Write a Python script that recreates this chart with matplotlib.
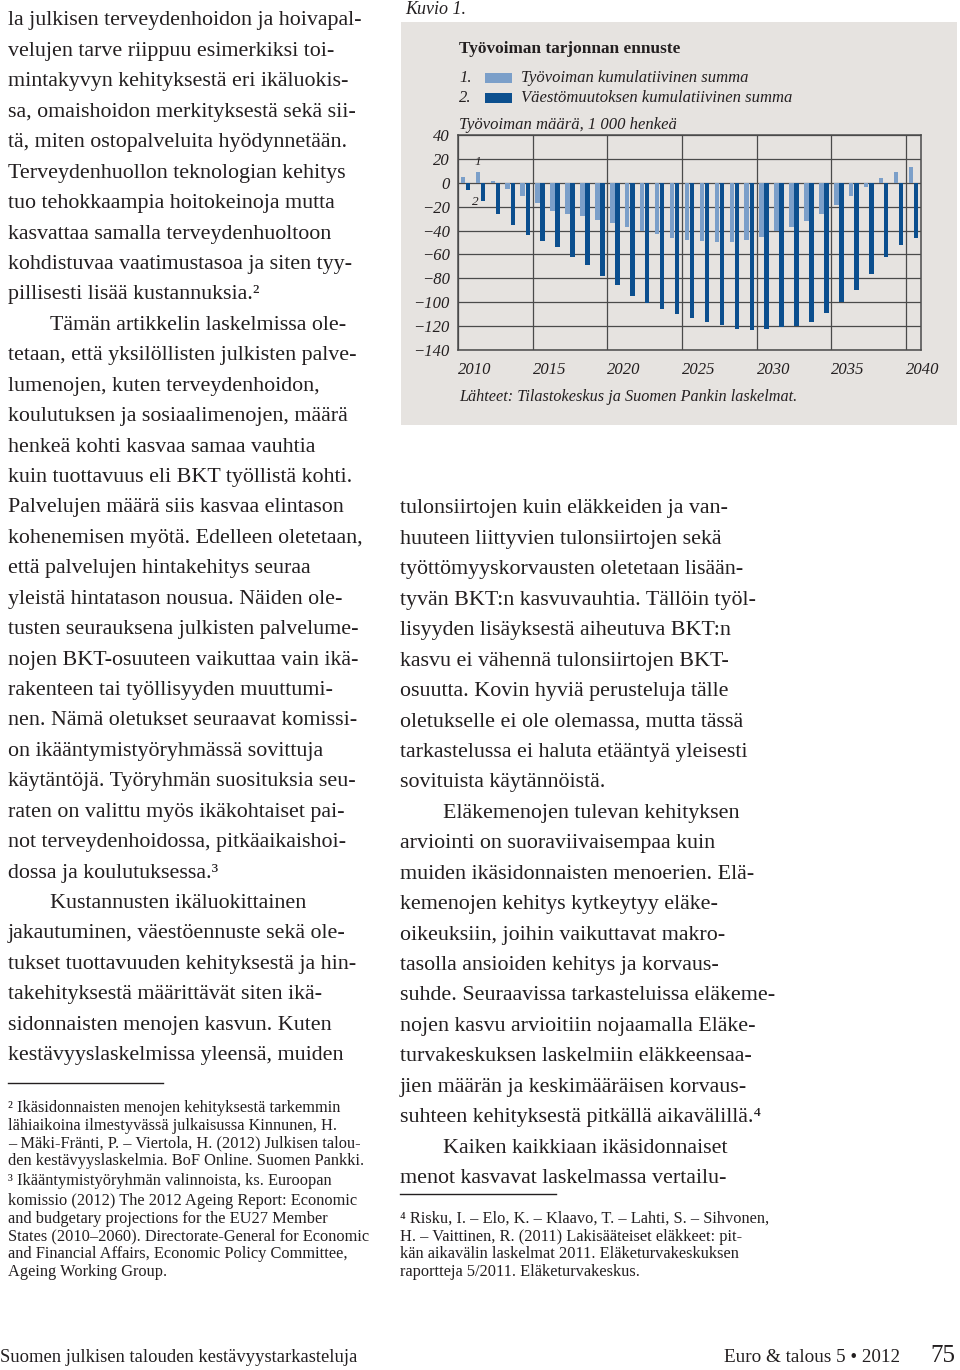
import matplotlib
matplotlib.use("Agg")
import matplotlib.pyplot as plt
from matplotlib.patches import Rectangle
import numpy as np

plt.rcParams['font.family'] = ['Liberation Serif', 'DejaVu Serif']

W, H = 960, 1370

# chart data, 1 000 persons
years = list(range(2010, 2041))
labour_cum = [4.5, 9, 1.5, -5, -11, -17, -23.5, -26, -28, -31,
              -34, -37, -40, -42.5, -46, -47.5, -49, -49.5, -49.5, -47.5,
              -45, -40.5, -37, -32, -26, -19, -11, -3.5, 3.6, 9, 13.4]
pop_cum = [-6, -15, -26, -35, -44, -49, -54, -62, -68.5, -78,
           -85.5, -94.5, -101, -106, -110, -113, -116.6, -119.4, -122, -123.6,
           -122.8, -121, -120.3, -116.6, -109, -100, -89.5, -76.6, -62, -52, -46]
xtick_years = [2010, 2015, 2020, 2025, 2030, 2035, 2040]
yticks = [40, 20, 0, -20, -40, -60, -80, -100, -120, -140]

left_col = [
    "la julkisen terveydenhoidon ja hoivapal-",
    "velujen tarve riippuu esimerkiksi toi-",
    "mintakyvyn kehityksestä eri ikäluokis-",
    "sa, omaishoidon merkityksestä sekä sii-",
    "tä, miten ostopalveluita hyödynnetään.",
    "Terveydenhuollon teknologian kehitys",
    "tuo tehokkaampia hoitokeinoja mutta",
    "kasvattaa samalla terveydenhuoltoon",
    "kohdistuvaa vaatimustasoa ja siten tyy-",
    "pillisesti lisää kustannuksia.²",
    "\tTämän artikkelin laskelmissa ole-",
    "tetaan, että yksilöllisten julkisten palve-",
    "lumenojen, kuten terveydenhoidon,",
    "koulutuksen ja sosiaalimenojen, määrä",
    "henkeä kohti kasvaa samaa vauhtia",
    "kuin tuottavuus eli BKT työllistä kohti.",
    "Palvelujen määrä siis kasvaa elintason",
    "kohenemisen myötä. Edelleen oletetaan,",
    "että palvelujen hintakehitys seuraa",
    "yleistä hintatason nousua. Näiden ole-",
    "tusten seurauksena julkisten palvelume-",
    "nojen BKT-osuuteen vaikuttaa vain ikä-",
    "rakenteen tai työllisyyden muuttumi-",
    "nen. Nämä oletukset seuraavat komissi-",
    "on ikääntymistyöryhmässä sovittuja",
    "käytäntöjä. Työryhmän suosituksia seu-",
    "raten on valittu myös ikäkohtaiset pai-",
    "not terveydenhoidossa, pitkäaikaishoi-",
    "dossa ja koulutuksessa.³",
    "\tKustannusten ikäluokittainen",
    "jakautuminen, väestöennuste sekä ole-",
    "tukset tuottavuuden kehityksestä ja hin-",
    "takehityksestä määrittävät siten ikä-",
    "sidonnaisten menojen kasvun. Kuten",
    "kestävyyslaskelmissa yleensä, muiden",
]

right_col = [
    "tulonsiirtojen kuin eläkkeiden ja van-",
    "huuteen liittyvien tulonsiirtojen sekä",
    "työttömyyskorvausten oletetaan lisään-",
    "tyvän BKT:n kasvuvauhtia. Tällöin työl-",
    "lisyyden lisäyksestä aiheutuva BKT:n",
    "kasvu ei vähennä tulonsiirtojen BKT-",
    "osuutta. Kovin hyviä perusteluja tälle",
    "oletukselle ei ole olemassa, mutta tässä",
    "tarkastelussa ei haluta etääntyä yleisesti",
    "sovituista käytännöistä.",
    "\tEläkemenojen tulevan kehityksen",
    "arviointi on suoraviivaisempaa kuin",
    "muiden ikäsidonnaisten menoerien. Elä-",
    "kemenojen kehitys kytkeytyy eläke-",
    "oikeuksiin, joihin vaikuttavat makro-",
    "tasolla ansioiden kehitys ja korvaus-",
    "suhde. Seuraavissa tarkasteluissa eläkeme-",
    "nojen kasvu arvioitiin nojaamalla Eläke-",
    "turvakeskuksen laskelmiin eläkkeensaa-",
    "jien määrän ja keskimääräisen korvaus-",
    "suhteen kehityksestä pitkällä aikavälillä.⁴",
    "\tKaiken kaikkiaan ikäsidonnaiset",
    "menot kasvavat laskelmassa vertailu-",
]

notes_left = [
    "² Ikäsidonnaisten menojen kehityksestä tarkemmin",
    "lähiaikoina ilmestyvässä julkaisussa Kinnunen, H.",
    "– Mäki-Fränti, P. – Viertola, H. (2012) Julkisen talou-",
    "den kestävyyslaskelmia. BoF Online. Suomen Pankki.",
    "³ Ikääntymistyöryhmän valinnoista, ks. Euroopan",
    "komissio (2012) The 2012 Ageing Report: Economic",
    "and budgetary projections for the EU27 Member",
    "States (2010–2060). Directorate-General for Economic",
    "and Financial Affairs, Economic Policy Committee,",
    "Ageing Working Group.",
]
notes_left_y = [1108, 1126, 1143, 1161, 1181, 1201, 1219, 1236, 1254, 1272]

notes_right = [
    "⁴ Risku, I. – Elo, K. – Klaavo, T. – Lahti, S. – Sihvonen,",
    "H. – Vaittinen, R. (2011) Lakisääteiset eläkkeet: pit-",
    "kän aikavälin laskelmat 2011. Eläketurvakeskuksen",
    "raportteja 5/2011. Eläketurvakeskus.",
]
notes_right_y = [1219, 1237, 1254, 1272]

ink = "#231f20"
panel_bg = "#e6e3e0"
light_blue = "#7b9fc9"
dark_blue = "#0c4f8e"

fig = plt.figure(figsize=(W / 100, H / 100), dpi=100)
fig.patch.set_facecolor("white")


def put(x, y, s, **kw):
    kw.setdefault("color", ink)
    kw.setdefault("va", "center")
    fig.text(x / W, 1 - y / H, s, **kw)


def hline(x0, x1, y, lw=1.0):
    fig.add_artist(plt.Line2D([x0 / W, x1 / W], [1 - y / H, 1 - y / H],
                              color=ink, lw=lw, transform=fig.transFigure))


# body text
body_size = 15.8
for i, line in enumerate(left_col):
    y = 21 + i * 30.43
    x = 8
    if line.startswith("\t"):
        line, x = line[1:], 50
    put(x, y, line, fontsize=body_size)

for i, line in enumerate(right_col):
    y = 509 + i * 30.43
    x = 400
    if line.startswith("\t"):
        line, x = line[1:], 443
    put(x, y, line, fontsize=body_size)

hline(8, 163, 1083)
hline(400, 556, 1194)
for s, y in zip(notes_left, notes_left_y):
    put(8, y, s, fontsize=11.8)
for s, y in zip(notes_right, notes_right_y):
    put(400, y, s, fontsize=11.8)

# footer
put(0, 1358, "Suomen julkisen talouden kestävyystarkasteluja", fontsize=13.4)
put(900, 1358, "Euro & talous 5 • 2012", fontsize=13.8, ha="right")
put(955, 1356, "75", fontsize=18, ha="right")

# chart panel
put(405, 10, "Kuvio 1.", fontsize=13, style="italic")
fig.add_artist(Rectangle((401 / W, 1 - 425 / H), (957 - 401) / W, (425 - 22) / H,
                         transform=fig.transFigure, facecolor=panel_bg,
                         edgecolor="none", zorder=0))
put(459, 49, "Työvoiman tarjonnan ennuste", fontsize=12.4, weight="bold")
for k, (lab, col) in enumerate([("Työvoiman kumulatiivinen summa", light_blue),
                                 ("Väestömuutoksen kumulatiivinen summa", dark_blue)]):
    y = 78 + k * 20
    put(459, y, f"{k + 1}.", fontsize=12, style="italic")
    fig.add_artist(Rectangle((485 / W, 1 - (y + 5) / H), 27 / W, 10 / H,
                             transform=fig.transFigure, facecolor=col,
                             edgecolor="none", zorder=2))
    put(521, y, lab, fontsize=12, style="italic")
put(459, 125, "Työvoiman määrä, 1 000 henkeä", fontsize=12, style="italic")
put(459, 397, "Lähteet: Tilastokeskus ja Suomen Pankin laskelmat.",
    fontsize=11.7, style="italic")

ax = fig.add_axes([458 / W, 1 - 350 / H, (921 - 458) / W, (350 - 135) / H])
ax.set_facecolor(panel_bg)
idx = np.arange(len(years))
ax.bar(idx + 0.33, labour_cum, width=0.3, color=light_blue, zorder=3)
ax.bar(idx + 0.67, pop_cum, width=0.3, color=dark_blue, zorder=3)
ax.set_xlim(0, len(years))
ax.set_ylim(-140, 40)
ax.set_yticks(yticks)
ax.set_yticklabels([f"{v}".replace("-", "\u2212") for v in yticks],
                   fontsize=12, style="italic", color=ink)
ax.set_xticks([y - years[0] for y in xtick_years])
ax.set_xticklabels([str(y) for y in xtick_years], fontsize=12, style="italic",
                   color=ink, ha="left")
ax.tick_params(length=0, pad=6)
ax.tick_params(axis="x", pad=9)
ax.grid(True, color="#4a4a4a", lw=0.9, zorder=1)
for sp in ax.spines.values():
    sp.set_color("#4a4a4a")
    sp.set_linewidth(1.1)
ax.text(1.33, 17, "1", fontsize=9.5, style="italic", ha="center", va="center", color=ink)
ax.text(1.15, -16, "2", fontsize=9.5, style="italic", ha="center", va="center", color=ink)

fig.savefig("out.png", dpi=100)
